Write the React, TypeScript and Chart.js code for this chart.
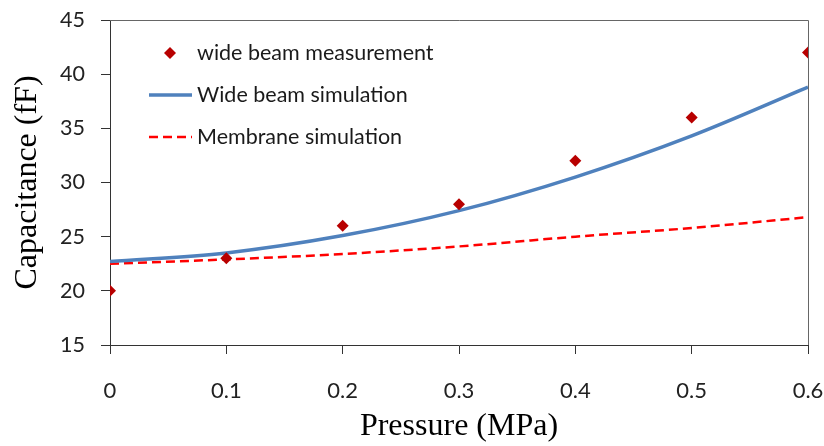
import React, { useEffect, useRef } from "react";
import { Chart, registerables } from "chart.js";

Chart.register(...registerables);

const pressure = [0, 0.1, 0.2, 0.3, 0.4, 0.5, 0.6];
const measurement = [20, 23, 26, 28, 32, 36, 42];
const wideBeamSim = [22.7, 23.5, 25.1, 27.4, 30.5, 34.3, 38.8];
const membraneSim = [22.5, 22.9, 23.4, 24.1, 25.0, 25.8, 26.8];

const legendLabels = ["wide beam measurement", "Wide beam simulation", "Membrane simulation"];
const xTitle = "Pressure (MPa)";
const yTitle = "Capacitance (fF)";

const TICK_FONT = "Lato";
const TITLE_FONT = "'Liberation Serif', 'Times New Roman', serif";

const frameAndLegend = {
  id: "frameAndLegend",
  afterDraw(chart: any) {
    const { ctx, chartArea } = chart;
    ctx.save();
    // top & right frame
    ctx.strokeStyle = "#666";
    ctx.lineWidth = 1;
    ctx.beginPath();
    ctx.moveTo(chartArea.left, chartArea.top + 0.5);
    ctx.lineTo(chartArea.right + 0.5, chartArea.top + 0.5);
    ctx.lineTo(chartArea.right + 0.5, chartArea.bottom);
    ctx.stroke();

    // legend
    const x0 = chartArea.left;
    const y0 = chartArea.top;
    ctx.font = `21.5px ${TICK_FONT}`;
    ctx.fillStyle = "#1a1a1a";
    ctx.textBaseline = "middle";
    ctx.textAlign = "left";
    const d = chart.data.datasets;
    // item 1: diamond
    const r1y = y0 + 33;
    ctx.fillStyle = d[0].pointBackgroundColor;
    ctx.beginPath();
    ctx.moveTo(x0 + 60, r1y - 6);
    ctx.lineTo(x0 + 66, r1y);
    ctx.lineTo(x0 + 60, r1y + 6);
    ctx.lineTo(x0 + 54, r1y);
    ctx.closePath();
    ctx.fill();
    ctx.fillStyle = "#1a1a1a";
    ctx.fillText(legendLabels[0], x0 + 87, r1y);
    // item 2: solid line
    const r2y = y0 + 75;
    ctx.strokeStyle = d[1].borderColor;
    ctx.lineWidth = d[1].borderWidth;
    ctx.beginPath();
    ctx.moveTo(x0 + 39, r2y);
    ctx.lineTo(x0 + 82, r2y);
    ctx.stroke();
    ctx.fillText(legendLabels[1], x0 + 87, r2y);
    // item 3: dashed line
    const r3y = y0 + 117;
    ctx.strokeStyle = d[2].borderColor;
    ctx.lineWidth = d[2].borderWidth;
    ctx.setLineDash(d[2].borderDash);
    ctx.beginPath();
    ctx.moveTo(x0 + 39, r3y);
    ctx.lineTo(x0 + 82, r3y);
    ctx.stroke();
    ctx.setLineDash([]);
    ctx.fillText(legendLabels[2], x0 + 87, r3y);
    ctx.restore();
  },
};

export default function App() {
  const ref = useRef<HTMLCanvasElement | null>(null);

  useEffect(() => {
    document.body.style.margin = "0";
    const canvas = ref.current;
    if (!canvas) return;
    const chart = new Chart(canvas, {
      type: "scatter",
      data: {
        datasets: [
          {
            label: legendLabels[0],
            data: pressure.map((x, i) => ({ x, y: measurement[i] })),
            showLine: false,
            pointStyle: "rectRot",
            pointRadius: 6,
            pointBackgroundColor: "#B80000",
            pointBorderColor: "#B80000",
            pointBorderWidth: 0,
            order: 0,
          },
          {
            label: legendLabels[1],
            data: pressure.map((x, i) => ({ x, y: wideBeamSim[i] })),
            showLine: true,
            borderColor: "#4F81BD",
            borderWidth: 3.5,
            pointRadius: 0,
            cubicInterpolationMode: "monotone",
            order: 1,
          },
          {
            label: legendLabels[2],
            data: pressure.map((x, i) => ({ x, y: membraneSim[i] })),
            showLine: true,
            borderColor: "#FF0000",
            borderWidth: 2.5,
            borderDash: [9, 5],
            pointRadius: 0,
            cubicInterpolationMode: "monotone",
            order: 2,
          },
        ] as any,
      },
      options: {
        animation: false,
        responsive: false,
        maintainAspectRatio: false,
        layout: { padding: { left: 8, right: 16, top: 20, bottom: 0 } },
        plugins: { legend: { display: false }, tooltip: { enabled: false } },
        scales: {
          x: {
            type: "linear",
            min: 0,
            max: 0.6,
            afterFit: (s: any) => {
              s.height = 101;
              s.paddingLeft = 0;
              s.paddingRight = 0;
            },
            ticks: {
              stepSize: 0.1,
              padding: 24,
              color: "#222",
              font: { family: TICK_FONT, size: 22 },
              callback: (v: any) => (Math.abs(v) < 1e-9 ? "0" : Number(v).toFixed(1)),
            },
            grid: { drawOnChartArea: false, drawTicks: true, tickLength: 9, color: "#333" },
            border: { color: "#333", width: 1 },
            title: {
              display: true,
              text: xTitle,
              color: "#000",
              font: { family: TITLE_FONT, size: 32 },
              padding: { top: 0, bottom: 0 },
            },
          },
          y: {
            type: "linear",
            min: 15,
            max: 45,
            afterFit: (s: any) => {
              s.width = 102;
              s.paddingTop = 0;
              s.paddingBottom = 0;
            },
            ticks: {
              stepSize: 5,
              padding: 16,
              color: "#222",
              font: { family: TICK_FONT, size: 21.5 },
            },
            grid: { drawOnChartArea: false, drawTicks: true, tickLength: 9, color: "#333" },
            border: { color: "#333", width: 1 },
            title: {
              display: true,
              text: yTitle,
              color: "#000",
              font: { family: TITLE_FONT, size: 32 },
              padding: { top: 0, bottom: 0 },
            },
          },
        },
      } as any,
      plugins: [frameAndLegend],
    });
    return () => chart.destroy();
  }, []);

  return (
    <div style={{ width: 824, height: 446, background: "#fff" }}>
      <canvas ref={ref} width={824} height={446} style={{ display: "block" }} />
    </div>
  );
}
